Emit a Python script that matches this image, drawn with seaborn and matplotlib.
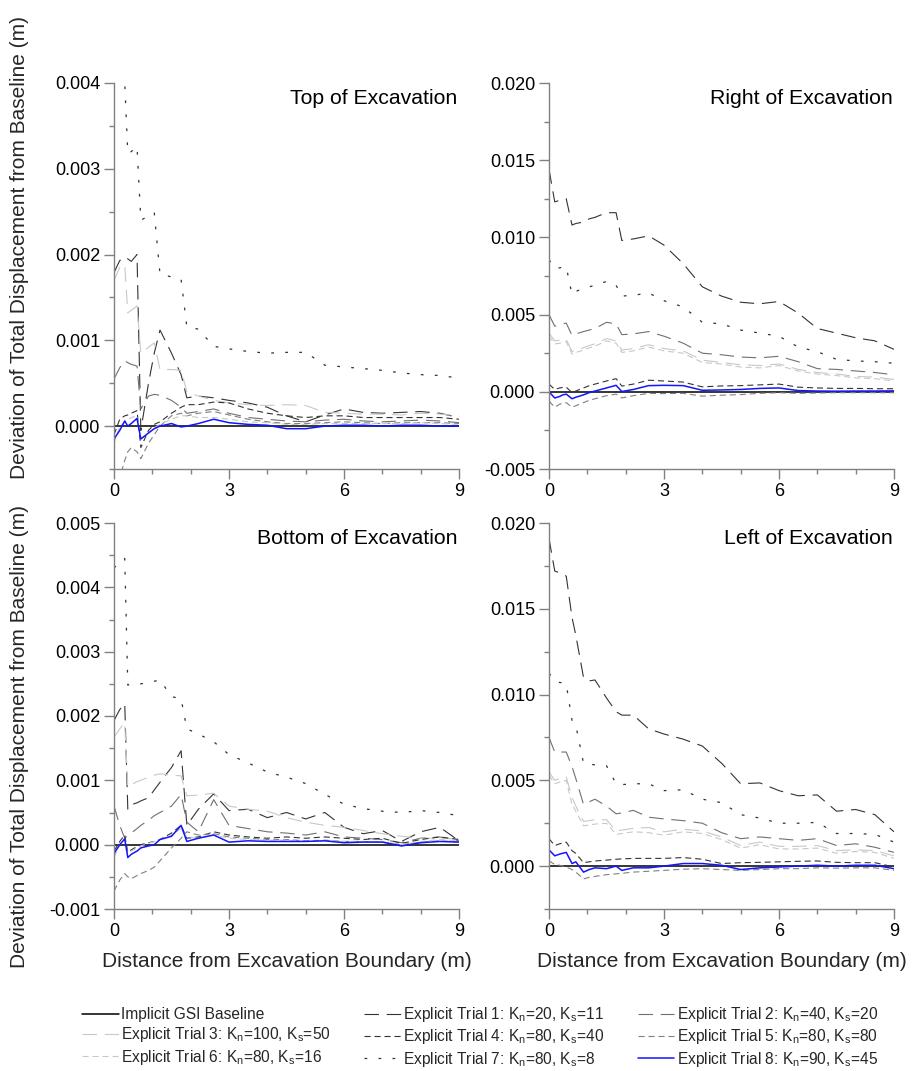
import matplotlib
matplotlib.use("Agg")
import matplotlib.pyplot as plt
import seaborn as sns
import numpy as np
from matplotlib.ticker import MultipleLocator, FormatStrFormatter

# distance from excavation boundary (m)
X = [0, 0.15, 0.28, 0.36, 0.45, 0.6, 0.7, 0.9, 1.05, 1.2, 1.5, 1.75, 1.9, 2.2,
     2.6, 3.0, 3.5, 4.0, 4.5, 5.0, 5.5, 6.0, 6.5, 7.0, 7.5, 8.0, 8.5, 9.0]
X_BASE = [0, 9]
BASELINE = [0.0, 0.0]

# deviations, in mm
TOP_T1 = [1.79, 1.93, 1.97, 1.95, 1.92, 2.0, -0.05, 0.5, 0.85, 1.12, 0.85, 0.6, 0.33, 0.35, 0.33, 0.3, 0.27, 0.22, 0.12, 0.05, 0.13, 0.2, 0.16, 0.15, 0.16, 0.17, 0.15, 0.1]
TOP_T2 = [0.55, 0.68, 0.76, 0.74, 0.72, 0.7, 0.2, 0.35, 0.37, 0.36, 0.3, 0.22, 0.15, 0.17, 0.2, 0.15, 0.1, 0.08, 0.06, 0.05, 0.07, 0.08, 0.06, 0.05, 0.06, 0.07, 0.06, 0.04]
TOP_T3 = [1.7, 1.85, 1.88, 1.32, 1.35, 1.4, 0.85, 0.92, 0.97, 0.66, 0.66, 0.65, 0.4, 0.35, 0.3, 0.27, 0.25, 0.24, 0.25, 0.24, 0.16, 0.15, 0.14, 0.14, 0.13, 0.15, 0.14, 0.12]
TOP_T4 = [-0.1, 0.08, 0.12, 0.13, 0.15, 0.18, -0.25, -0.05, 0.02, 0.05, 0.15, 0.22, 0.25, 0.25, 0.28, 0.27, 0.2, 0.15, 0.12, 0.1, 0.12, 0.12, 0.1, 0.1, 0.1, 0.1, 0.1, 0.08]
TOP_T5 = [-0.75, -0.6, -0.4, -0.3, -0.25, -0.3, -0.38, -0.2, -0.1, 0.0, 0.12, 0.15, 0.12, 0.15, 0.17, 0.13, 0.08, 0.05, 0.03, 0.03, 0.04, 0.05, 0.04, 0.03, 0.04, 0.04, 0.04, 0.03]
TOP_T6 = [-0.2, 0.0, 0.05, 0.07, 0.1, 0.12, -0.15, -0.08, -0.02, 0.02, 0.08, 0.12, 0.12, 0.1, 0.1, 0.08, 0.05, 0.04, 0.02, 0.02, 0.03, 0.03, 0.03, 0.03, 0.03, 0.04, 0.03, 0.02]
TOP_T7 = [4.6, 4.3, 4.0, 3.18, 3.2, 3.26, 2.4, 2.45, 2.49, 1.77, 1.74, 1.71, 1.16, 1.13, 0.93, 0.9, 0.87, 0.85, 0.86, 0.86, 0.71, 0.69, 0.67, 0.65, 0.62, 0.6, 0.59, 0.56]
TOP_T8 = [-0.15, -0.05, 0.06, 0.0, 0.03, 0.09, -0.15, -0.08, -0.03, 0.0, 0.03, -0.01, 0.0, 0.03, 0.08, 0.04, 0.02, 0.01, -0.03, -0.03, 0.0, 0.01, 0.01, 0.0, 0.01, 0.01, 0.0, 0.0]

RIGHT_T1 = [14.4, 12.3, 12.4, 12.45, 12.5, 10.8, 10.9, 11.0, 11.2, 11.3, 11.6, 11.6, 9.8, 9.9, 10.1, 9.5, 8.3, 6.8, 6.2, 5.8, 5.7, 5.85, 5.1, 4.1, 3.8, 3.5, 3.3, 2.75]
RIGHT_T2 = [5.0, 4.25, 4.35, 4.4, 4.45, 3.65, 3.75, 3.9, 4.0, 4.1, 4.5, 4.4, 3.7, 3.75, 3.9, 3.6, 3.15, 2.5, 2.4, 2.25, 2.2, 2.3, 1.95, 1.5, 1.45, 1.35, 1.25, 1.1]
RIGHT_T3 = [3.8, 3.3, 3.35, 3.38, 3.4, 2.6, 2.7, 2.85, 3.0, 3.1, 3.45, 3.3, 2.7, 2.8, 3.05, 2.8, 2.65, 2.05, 1.9, 1.75, 1.7, 1.8, 1.45, 1.25, 1.15, 1.0, 0.95, 0.8]
RIGHT_T4 = [0.5, 0.15, 0.25, 0.28, 0.3, -0.05, 0.05, 0.25, 0.4, 0.5, 0.7, 0.85, 0.37, 0.5, 0.75, 0.7, 0.63, 0.32, 0.38, 0.4, 0.45, 0.5, 0.3, 0.25, 0.22, 0.22, 0.2, 0.2]
RIGHT_T5 = [-0.6, -1.0, -0.8, -0.75, -0.7, -1.0, -0.9, -0.7, -0.55, -0.45, -0.25, -0.15, -0.4, -0.25, -0.1, -0.12, -0.1, -0.28, -0.22, -0.18, -0.1, -0.06, -0.1, -0.08, -0.06, -0.06, -0.06, -0.06]
RIGHT_T6 = [3.6, 3.1, 3.15, 3.2, 3.25, 2.45, 2.55, 2.7, 2.85, 2.95, 3.3, 3.15, 2.55, 2.65, 2.9, 2.65, 2.5, 1.9, 1.8, 1.6, 1.55, 1.7, 1.35, 1.15, 1.05, 0.9, 0.85, 0.7]
RIGHT_T7 = [8.55, 8.0, 8.03, 8.07, 8.1, 6.3, 6.5, 6.7, 6.8, 6.9, 7.15, 6.9, 6.2, 6.25, 6.4, 5.9, 5.5, 4.5, 4.4, 4.0, 3.8, 3.6, 2.9, 2.6, 2.1, 2.0, 1.95, 1.85]
RIGHT_T8 = [0.0, -0.4, -0.3, -0.2, -0.15, -0.45, -0.35, -0.2, -0.05, 0.05, 0.25, 0.42, 0.02, 0.15, 0.4, 0.42, 0.4, 0.1, 0.12, 0.15, 0.22, 0.25, 0.08, 0.05, 0.04, 0.05, 0.05, 0.06]

BOTTOM_T1 = [1.93, 2.1, 2.19, 0.55, 0.62, 0.65, 0.68, 0.73, 0.85, 0.97, 1.2, 1.46, 0.3, 0.55, 0.79, 0.53, 0.55, 0.42, 0.5, 0.4, 0.5, 0.27, 0.17, 0.22, 0.05, 0.2, 0.27, 0.06]
BOTTOM_T2 = [0.6, 0.3, 0.1, 0.15, 0.18, 0.25, 0.3, 0.38, 0.45, 0.5, 0.6, 0.78, 0.35, 0.2, 0.7, 0.3, 0.25, 0.2, 0.18, 0.15, 0.2, 0.12, 0.1, 0.08, 0.03, 0.1, 0.12, 0.06]
BOTTOM_T3 = [1.67, 1.8, 1.9, 0.9, 0.93, 0.98, 1.0, 1.05, 1.08, 1.1, 1.08, 1.07, 0.76, 0.77, 0.8, 0.6, 0.55, 0.52, 0.42, 0.35, 0.3, 0.27, 0.22, 0.17, 0.13, 0.1, 0.1, 0.09]
BOTTOM_T4 = [-0.1, 0.05, 0.15, -0.12, -0.08, -0.03, 0.0, 0.03, 0.05, 0.08, 0.18, 0.3, 0.1, 0.12, 0.2, 0.15, 0.12, 0.1, 0.12, 0.1, 0.12, 0.1, 0.08, 0.1, 0.02, 0.08, 0.12, 0.08]
BOTTOM_T5 = [-0.72, -0.55, -0.45, -0.5, -0.53, -0.48, -0.45, -0.4, -0.35, -0.25, -0.05, 0.1, 0.2, 0.15, 0.17, 0.12, 0.1, 0.08, 0.08, 0.06, 0.07, 0.05, 0.05, 0.04, 0.0, 0.04, 0.06, 0.04]
BOTTOM_T6 = [-0.2, 0.0, 0.08, -0.15, -0.1, -0.05, -0.02, 0.02, 0.05, 0.08, 0.15, 0.25, 0.12, 0.1, 0.15, 0.1, 0.08, 0.07, 0.07, 0.05, 0.06, 0.05, 0.05, 0.05, 0.0, 0.05, 0.08, 0.06]
BOTTOM_T7 = [4.3, 4.4, 4.45, 2.48, 2.5, 2.5, 2.5, 2.52, 2.54, 2.56, 2.3, 2.27, 1.8, 1.72, 1.6, 1.4, 1.27, 1.13, 1.05, 0.95, 0.78, 0.63, 0.56, 0.52, 0.5, 0.53, 0.5, 0.45]
BOTTOM_T8 = [-0.14, 0.0, 0.09, -0.2, -0.15, -0.1, -0.05, -0.02, 0.0, 0.08, 0.13, 0.3, 0.05, 0.1, 0.15, 0.04, 0.06, 0.05, 0.05, 0.05, 0.06, 0.03, 0.04, 0.04, -0.02, 0.03, 0.05, 0.04]

LEFT_T1 = [19.1, 17.2, 17.1, 17.0, 16.9, 14.5, 13.45, 11.0, 10.8, 10.85, 9.8, 9.0, 8.8, 8.8, 8.0, 7.7, 7.4, 7.0, 6.0, 4.8, 4.85, 4.4, 4.1, 4.15, 3.2, 3.3, 3.0, 2.0]
LEFT_T2 = [7.5, 6.65, 6.65, 6.65, 6.65, 5.8, 5.1, 3.6, 3.75, 3.9, 3.5, 3.05, 3.1, 3.25, 2.85, 2.75, 2.65, 2.5, 1.95, 1.6, 1.7, 1.6, 1.5, 1.6, 1.2, 1.3, 1.1, 0.8]
LEFT_T3 = [5.5, 5.0, 5.1, 5.15, 5.2, 4.0, 3.5, 2.6, 2.65, 2.7, 2.7, 2.05, 2.1, 2.2, 2.25, 2.0, 2.15, 2.05, 1.7, 1.2, 1.4, 1.15, 1.15, 1.2, 0.9, 0.95, 0.9, 0.6]
LEFT_T4 = [1.6, 1.2, 1.3, 1.35, 1.4, 0.9, 0.74, 0.2, 0.25, 0.3, 0.35, 0.4, 0.42, 0.45, 0.45, 0.45, 0.5, 0.4, 0.15, 0.2, 0.22, 0.25, 0.28, 0.3, 0.22, 0.2, 0.2, -0.05]
LEFT_T5 = [0.3, 0.1, 0.05, 0.0, -0.05, -0.2, -0.35, -0.75, -0.65, -0.6, -0.5, -0.45, -0.42, -0.35, -0.3, -0.25, -0.18, -0.15, -0.2, -0.25, -0.2, -0.15, -0.15, -0.1, -0.12, -0.1, -0.1, -0.25]
LEFT_T6 = [5.3, 4.8, 4.9, 4.95, 5.0, 3.6, 3.2, 2.35, 2.4, 2.45, 2.5, 1.85, 1.9, 2.0, 1.95, 1.8, 2.0, 1.9, 1.55, 1.05, 1.25, 1.0, 1.0, 1.05, 0.75, 0.85, 0.8, 0.45]
LEFT_T7 = [11.25, 10.8, 10.7, 10.7, 10.6, 8.5, 8.2, 6.0, 5.95, 5.9, 5.85, 4.8, 4.75, 4.8, 4.8, 4.4, 4.45, 3.9, 3.7, 3.0, 2.8, 2.5, 2.5, 2.55, 1.9, 1.9, 1.85, 1.4]
LEFT_T8 = [0.95, 0.6, 0.7, 0.75, 0.8, 0.15, 0.25, -0.35, -0.2, -0.1, -0.15, 0.0, -0.25, -0.1, -0.1, 0.0, 0.15, 0.15, 0.05, -0.2, -0.1, -0.05, 0.0, 0.05, 0.0, 0.05, 0.05, -0.15]

LABELS = [
    "Implicit GSI Baseline",
    "Explicit Trial 1: K$_\\mathrm{n}$=20, K$_\\mathrm{s}$=11",
    "Explicit Trial 2: K$_\\mathrm{n}$=40, K$_\\mathrm{s}$=20",
    "Explicit Trial 3: K$_\\mathrm{n}$=100, K$_\\mathrm{s}$=50",
    "Explicit Trial 4: K$_\\mathrm{n}$=80, K$_\\mathrm{s}$=40",
    "Explicit Trial 5: K$_\\mathrm{n}$=80, K$_\\mathrm{s}$=80",
    "Explicit Trial 6: K$_\\mathrm{n}$=80, K$_\\mathrm{s}$=16",
    "Explicit Trial 7: K$_\\mathrm{n}$=80, K$_\\mathrm{s}$=8",
    "Explicit Trial 8: K$_\\mathrm{n}$=90, K$_\\mathrm{s}$=45",
]
PANEL_TITLES = ["Top of Excavation", "Right of Excavation",
                "Bottom of Excavation", "Left of Excavation"]

sns.set_theme(style="ticks")
plt.rcParams['font.family'] = ['Liberation Sans', 'DejaVu Sans']
plt.rcParams['mathtext.fontset'] = 'custom'
plt.rcParams['mathtext.rm'] = 'Liberation Sans'
plt.rcParams['mathtext.it'] = 'Liberation Sans:italic'
plt.rcParams['axes.unicode_minus'] = False

LONG = (0, (13, 7))
SHORT = (0, (5.5, 3.5))
DOT = (0, (2.2, 9))
STYLES = [
    ("#000000", "-", 1.1),
    ("#333333", LONG, 0.8),
    ("#707070", LONG, 0.8),
    ("#c8c8c8", LONG, 0.8),
    ("#333333", SHORT, 0.8),
    ("#808080", SHORT, 0.8),
    ("#c8c8c8", SHORT, 0.8),
    ("#333333", DOT, 0.9),
    ("#1414ff", "-", 1.1),
]

panels = [
    (PANEL_TITLES[0], [TOP_T1, TOP_T2, TOP_T3, TOP_T4, TOP_T5, TOP_T6, TOP_T7, TOP_T8],
     (-0.0005, 0.004), 0.001, 0.0005, [114, 83]),
    (PANEL_TITLES[1], [RIGHT_T1, RIGHT_T2, RIGHT_T3, RIGHT_T4, RIGHT_T5, RIGHT_T6, RIGHT_T7, RIGHT_T8],
     (-0.005, 0.020), 0.005, 0.0025, [549, 83]),
    (PANEL_TITLES[2], [BOTTOM_T1, BOTTOM_T2, BOTTOM_T3, BOTTOM_T4, BOTTOM_T5, BOTTOM_T6, BOTTOM_T7, BOTTOM_T8],
     (-0.001, 0.005), 0.001, 0.0005, [114, 523]),
    (PANEL_TITLES[3], [LEFT_T1, LEFT_T2, LEFT_T3, LEFT_T4, LEFT_T5, LEFT_T6, LEFT_T7, LEFT_T8],
     (-0.0025, 0.020), 0.005, 0.0025, [549, 523]),
]

W, H = 918, 1071
fig = plt.figure(figsize=(W / 100, H / 100), dpi=100)
AW, AH = 345, 386
GRAY = "#808080"
axes = []
for i, (title, series, ylim, major, minor, (px, py)) in enumerate(panels):
    ax = fig.add_axes([px / W, 1 - (py + AH) / H, AW / W, AH / H])
    axes.append(ax)
    c, ls, lw = STYLES[0]
    sns.lineplot(x=X_BASE, y=BASELINE, ax=ax, color=c, linestyle=ls, linewidth=lw,
                 label=LABELS[0], legend=False, sort=False, estimator=None, errorbar=None)
    for k, vals in enumerate(series):
        c, ls, lw = STYLES[k + 1]
        sns.lineplot(x=X, y=np.array(vals) / 1000.0, ax=ax, color=c, linestyle=ls,
                     linewidth=lw, label=LABELS[k + 1], legend=False, sort=False,
                     estimator=None, errorbar=None)
    ax.set_xlim(0, 9)
    ax.set_ylim(*ylim)
    ax.xaxis.set_major_locator(MultipleLocator(3))
    ax.xaxis.set_minor_locator(MultipleLocator(1))
    ax.yaxis.set_major_locator(MultipleLocator(major))
    ax.yaxis.set_minor_locator(MultipleLocator(minor))
    ax.yaxis.set_major_formatter(FormatStrFormatter('%.3f'))
    ax.xaxis.set_major_formatter(FormatStrFormatter('%d'))
    sns.despine(ax=ax)
    for s in ("left", "bottom"):
        ax.spines[s].set_color(GRAY)
        ax.spines[s].set_linewidth(1.0)
    ax.tick_params(which='major', direction='out', length=7, width=1.0, color=GRAY,
                   labelsize=13, pad=3, labelcolor='black')
    ax.tick_params(which='minor', direction='out', length=3.5, width=1.0, color=GRAY)
    ax.set_xlabel("")
    ax.set_ylabel("")
    ax.text(0.995, 0.985, title, transform=ax.transAxes, ha='right', va='top',
            fontsize=15.3, color='black')
    if i >= 2:
        ax.set_xlabel("Distance from Excavation Boundary (m)", fontsize=15, labelpad=9)

YLAB = "Deviation of Total Displacement from Baseline (m)"
fig.text(20 / W, 1 - 247 / H, YLAB, rotation=90, ha='center', va='center', fontsize=15)
fig.text(20 / W, 1 - 737 / H, YLAB, rotation=90, ha='center', va='center', fontsize=15)

handles, labels = axes[0].get_legend_handles_labels()
order = [0, 3, 6, 1, 4, 7, 2, 5, 8]
fig.legend([handles[j] for j in order], [labels[j] for j in order],
           loc='center', bbox_to_anchor=(0.523, 1 - 1037 / H), ncol=3, frameon=False,
           fontsize=11.2, handlelength=2.35, handletextpad=0.15, columnspacing=2.15,
           labelspacing=0.22)

fig.savefig("out.png", dpi=100)
